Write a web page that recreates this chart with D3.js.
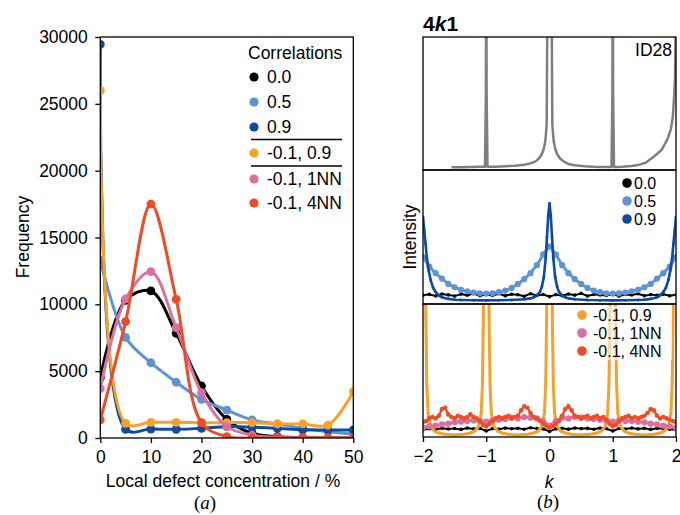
<!DOCTYPE html>
<html><head><meta charset="utf-8">
<script src="https://cdn.jsdelivr.net/npm/d3@7"></script>
<style>
body{margin:0;background:#fff;}
svg text{font-family:"Liberation Sans",Arial,sans-serif;}
</style></head>
<body><svg id="c" width="680" height="515"></svg>
<script>
// ---------- (a) data ----------
const conc = [0,5,10,15,20,25,30,35,40,45,50];
const s00  = [4500,10300,11000,7830,3890,1400,350,100,20,0,0];
const s05  = [13300,7530,5630,4170,2890,2090,1350,1050,720,470,300];
const s09  = [29450,650,670,650,720,850,800,720,600,600,600];
const sM09 = [26000,1100,1170,1170,1150,1150,1150,1050,1050,970,3470];
const s1NN = [3700,10400,12440,8250,3390,850,220,50,0,0,0];
const s4NN = [1350,8700,17500,10370,1150,100,0,0,0,0,0];
const freqTicks = [0,5000,10000,15000,20000,25000,30000];
const concTicks = [0,10,20,30,40,50];

// ---------- (b) data (intensity in % of sub-panel height) ----------
const kTicks = [-2,-1,0,1,2];
const id28K = [-1.55,-1.4,-1.25,-1.1,-1.02,-1.005,-1.0,-0.995,-0.98,-0.85,-0.7,-0.55,-0.4,-0.3,-0.22,-0.16,-0.12,-0.09,-0.065,-0.045,-0.035,-0.025,0,0.025,0.035,0.045,0.065,0.09,0.12,0.16,0.22,0.3,0.4,0.55,0.7,0.85,0.98,0.995,1.0,1.005,1.02,1.15,1.3,1.42,1.52,1.62,1.7,1.77,1.83,1.88,1.92,1.95,1.97,1.985,2.0];
const id28V = [2,2.1,2.2,2.4,2.5,60,300,60,2.5,2.5,2.8,3.2,4,5,6.5,9,12,16,22,34,110,300,400,300,110,34,22,16,12,9,6.5,4.5,3.5,2.8,2.4,2.3,2.3,60,300,60,2.3,2.5,3,4,5.5,9,12,15,20,25,31,40,55,70,130];

const kStep = [-2,-1.9,-1.8,-1.7,-1.6,-1.5,-1.4,-1.3,-1.2,-1.1,-1,-0.9,-0.8,-0.7,-0.6,-0.5,-0.4,-0.3,-0.2,-0.1,0,0.1,0.2,0.3,0.4,0.5,0.6,0.7,0.8,0.9,1,1.1,1.2,1.3,1.4,1.5,1.6,1.7,1.8,1.9,2];
const mid00 = [6.5,7.2,6.0,7.5,6.8,5.9,7.4,6.6,7.8,6.2,7.0,6.4,7.6,6.1,7.3,6.9,5.8,7.7,6.3,7.1,5.5,7.0,6.2,7.5,6.6,7.9,6.0,7.2,6.8,6.3,7.4,5.9,7.1,6.7,7.6,6.2,7.0,6.5,7.3,6.1,6.9];
const mid05 = [35,28,23,19,15,12.5,10.5,9.5,8.5,8,7.8,8,8.8,10,12,15,18.5,23,29,37,43,37,29,23,18.5,15,12,10,8.8,8,7.8,8,8.5,9.5,10.5,12.5,15,19,23,28,35];
const mid09K = [-2,-1.98,-1.96,-1.94,-1.91,-1.88,-1.84,-1.8,-1.75,-1.7,-1.6,-1.5,-1.4,-1.2,-1.0,-0.8,-0.6,-0.4,-0.3,-0.25,-0.2,-0.15,-0.12,-0.09,-0.06,-0.04,-0.02,0,0.02,0.04,0.06,0.09,0.12,0.15,0.2,0.25,0.3,0.4,0.6,0.8,1.0,1.2,1.4,1.5,1.6,1.7,1.75,1.8,1.84,1.88,1.91,1.94,1.96,1.98,2];
const mid09V = [65,55,45,35,25,18,12,9,6.5,5,3.8,3.2,3,2.8,2.7,2.8,3,3.5,4.2,5,6.5,9,13,20,34,50,66,75,66,50,34,20,13,9,6.5,5,4.2,3.5,3,2.8,2.7,2.8,3,3.2,3.8,5,6.5,9,12,18,25,35,45,55,65];

const botM09K = [-2,-1.97,-1.955,-1.94,-1.92,-1.88,-1.82,-1.75,-1.65,-1.5,-1.35,-1.25,-1.18,-1.12,-1.08,-1.06,-1.045,-1.03,-1,-0.97,-0.955,-0.94,-0.92,-0.88,-0.82,-0.75,-0.65,-0.5,-0.35,-0.25,-0.18,-0.12,-0.08,-0.06,-0.045,-0.03,0,0.03,0.045,0.06,0.08,0.12,0.18,0.25,0.35,0.5,0.65,0.75,0.82,0.88,0.92,0.94,0.955,0.97,1,1.03,1.045,1.06,1.08,1.12,1.18,1.25,1.35,1.5,1.65,1.75,1.82,1.88,1.92,1.94,1.955,1.97,2];
const botM09V = [600,250,90,40,18,8,4.5,3,2,1.5,2,3,4.5,8,18,40,90,250,600,250,90,40,18,8,4.5,3,2,1.5,2,3,4.5,8,18,40,90,250,600,250,90,40,18,8,4.5,3,2,1.5,2,3,4.5,8,18,40,90,250,600,250,90,40,18,8,4.5,3,2,1.5,2,3,4.5,8,18,40,90,250,600];
const bot00 = [5.5,6.2,5.8,6.6,6.0,6.4,5.7,6.8,6.1,6.5,4.5,6.3,5.9,6.7,6.2,6.6,5.8,6.9,6.3,6.0,4.2,6.1,6.6,5.9,6.8,6.3,6.5,5.8,6.7,6.2,4.5,6.4,6.0,6.8,6.1,6.6,5.7,6.5,6.2,5.9,5.4];
const bot1NN = [7,8,8.5,9.5,10,11,11.5,12,12.5,12,11.5,12.5,13,13.5,14.5,14,15,14.5,14,12,8.5,12,14.5,14,15,14.5,14,13.5,13,12.5,11.5,12.5,12,12,11.5,11,10,9.5,8.5,8,7];
const k4NN = [-2,-1.95,-1.9,-1.85,-1.8,-1.75,-1.7,-1.65,-1.6,-1.55,-1.5,-1.45,-1.4,-1.35,-1.3,-1.25,-1.2,-1.15,-1.1,-1.05,-1,-0.95,-0.9,-0.85,-0.8,-0.75,-0.7,-0.65,-0.6,-0.55,-0.5,-0.45,-0.4,-0.35,-0.3,-0.25,-0.2,-0.15,-0.1,-0.05,0,0.05,0.1,0.15,0.2,0.25,0.3,0.35,0.4,0.45,0.5,0.55,0.6,0.65,0.7,0.75,0.8,0.85,0.9,0.95,1,1.05,1.1,1.15,1.2,1.25,1.3,1.35,1.4,1.45,1.5,1.55,1.6,1.65,1.7,1.75,1.8,1.85,1.9,1.95,2];
const bot4NN = [11,12,14,15,14,16,21,22,17,15,14,16,15,14,15,17,15,14,12,9,8,10,12,14,15,14,15,16,14,15,16,20,23,22,18,15,14,12,10,8,7,8,10,12,16,21,23,20,16,15,14,15,16,14,15,16,14,15,13,10,8,9,12,14,15,16,14,15,14,15,16,18,21,20,16,14,15,14,13,12,11];

const C = {k:"#000000", lb:"#5f93d6", db:"#0b4aa5", or:"#f7a128", pk:"#d9709f", rd:"#ef4b27", gr:"#7f7f7f"};
const svg = d3.select("#c");
const FS = "17.5px";
const FSL = "16px";

// ================= (a) =================
const xL = d3.scaleLinear().domain([0,50]).range([100.3,353.3]);
const yL = d3.scaleLinear().domain([0,30000]).range([438,37]);
svg.append("clipPath").attr("id","clA").append("rect")
  .attr("x",xL(0)).attr("y",yL(30000)).attr("width",xL(50)-xL(0)).attr("height",yL(0)-yL(30000));
const gA = svg.append("g");
const plotA = gA.append("g").attr("clip-path","url(#clA)");
const lineA = d3.line().x((d,i)=>xL(conc[i])).y(d=>yL(d)).curve(d3.curveCatmullRom.alpha(0.5));
const seriesA = [[s00,C.k],[s05,C.lb],[s09,C.db],[sM09,C.or],[s1NN,C.pk],[s4NN,C.rd]];
seriesA.forEach(([vals,col])=>{
  plotA.append("path").attr("d",lineA(vals)).attr("fill","none").attr("stroke",col).attr("stroke-width",3);
  plotA.selectAll(null).data(vals).enter().append("circle")
    .attr("cx",(d,i)=>xL(conc[i])).attr("cy",d=>yL(d)).attr("r",4.4).attr("fill",col);
});
gA.append("rect").attr("x",xL(0)).attr("y",yL(30000)).attr("width",xL(50)-xL(0)).attr("height",yL(0)-yL(30000))
  .attr("fill","none").attr("stroke","#000").attr("stroke-width",1.3);
const axA_y = gA.append("g").attr("transform",`translate(${xL(0)},0)`)
  .call(d3.axisLeft(yL).tickValues(freqTicks).tickFormat(d3.format("d")).tickSize(5).tickPadding(7.5).tickSizeOuter(0));
const axA_x = gA.append("g").attr("transform",`translate(0,${yL(0)})`)
  .call(d3.axisBottom(xL).tickValues(concTicks).tickFormat(d3.format("d")).tickSize(5).tickPadding(7.5).tickSizeOuter(0));
[axA_y,axA_x].forEach(a=>{
  a.select(".domain").remove();
  a.selectAll("line").attr("stroke","#000").attr("stroke-width",1.3);
  a.selectAll("text").attr("font-size",FS).attr("fill","#000").style("font-family","Liberation Sans, Arial, sans-serif");
});
gA.append("text").attr("transform","translate(29,237) rotate(-90)").attr("text-anchor","middle")
  .attr("font-size",FS).text("Frequency");
gA.append("text").attr("x",223).attr("y",487).attr("text-anchor","middle").attr("font-size",FS)
  .text("Local defect concentration / %");
const capA = gA.append("text").attr("x",205).attr("y",509).attr("text-anchor","middle")
  .attr("font-size","19px").style("font-family","Liberation Serif, Times New Roman, serif");
capA.append("tspan").text("(");
capA.append("tspan").attr("font-style","italic").text("a");
capA.append("tspan").text(")");

// legend (a)
const legA = gA.append("g");
legA.append("text").attr("x",248).attr("y",59).attr("font-size",FS).text("Correlations");
const legItemsA = [["0.0",C.k,77],["0.5",C.lb,102],["0.9",C.db,127],["-0.1, 0.9",C.or,153],["-0.1, 1NN",C.pk,179],["-0.1, 4NN",C.rd,203]];
legItemsA.forEach(([t,col,cy])=>{
  legA.append("circle").attr("cx",254).attr("cy",cy).attr("r",4.6).attr("fill",col);
  legA.append("text").attr("x",267).attr("y",cy+6.3).attr("font-size",FS).text(t);
});
[139.5,166].forEach(y=>legA.append("line").attr("x1",251).attr("x2",342).attr("y1",y).attr("y2",y)
  .attr("stroke","#000").attr("stroke-width",1.5));

// ================= (b) =================
const xR = d3.scaleLinear().domain([-2,2]).range([423,676]);
const panels = [
  {top:37, bot:170, id:"clT"},
  {top:170, bot:304, id:"clM"},
  {top:304, bot:437, id:"clB"}
];
panels.forEach(p=>{
  p.y = d3.scaleLinear().domain([0,100]).range([p.bot,p.top]);
  svg.append("clipPath").attr("id",p.id).append("rect")
    .attr("x",xR(-2)).attr("y",p.top).attr("width",xR(2)-xR(-2)).attr("height",p.bot-p.top);
  p.g = svg.append("g").attr("clip-path",`url(#${p.id})`);
});
function drawSeries(p, ks, vs, col, lw, r){
  const ln = d3.line().x((d,i)=>xR(ks[i])).y(d=>p.y(d));
  p.g.append("path").attr("d",ln(vs)).attr("fill","none").attr("stroke",col)
    .attr("stroke-width",lw).attr("stroke-linejoin","round");
  if(r>0) p.g.selectAll(null).data(vs).enter().append("circle")
    .attr("cx",(d,i)=>xR(ks[i])).attr("cy",d=>p.y(d)).attr("r",r).attr("fill",col);
}
// top: ID28
drawSeries(panels[0], id28K, id28V, C.gr, 2.5, 0);
// middle
drawSeries(panels[1], kStep, mid00, C.k, 2, 1.8);
drawSeries(panels[1], kStep, mid05, C.lb, 3, 3.1);
drawSeries(panels[1], mid09K, mid09V, C.db, 2.6, 1.4);
// bottom
drawSeries(panels[2], kStep, bot00, C.k, 2, 1.8);
drawSeries(panels[2], botM09K, botM09V, C.or, 3, 1.4);
drawSeries(panels[2], kStep, bot1NN, C.pk, 3, 3.1);
drawSeries(panels[2], k4NN, bot4NN, C.rd, 2.4, 2.3);

// legends (b)
svg.append("rect").attr("x",575).attr("y",306).attr("width",97).attr("height",54)
  .attr("fill","#fff").attr("opacity",0.6);
const legM = [["0.0",C.k,183],["0.5",C.lb,201],["0.9",C.db,219]];
legM.forEach(([t,col,cy])=>{
  svg.append("circle").attr("cx",627).attr("cy",cy).attr("r",4.8).attr("fill",col);
  svg.append("text").attr("x",634).attr("y",cy+5.8).attr("font-size",FSL).text(t);
});
const legB = [["-0.1, 0.9",C.or,315],["-0.1, 1NN",C.pk,333],["-0.1, 4NN",C.rd,351]];
legB.forEach(([t,col,cy])=>{
  svg.append("circle").attr("cx",582).attr("cy",cy).attr("r",4.8).attr("fill",col);
  svg.append("text").attr("x",593).attr("y",cy+5.8).attr("font-size",FSL).text(t);
});

// frames
panels.forEach(p=>{
  svg.append("rect").attr("x",xR(-2)).attr("y",p.top).attr("width",xR(2)-xR(-2)).attr("height",p.bot-p.top)
    .attr("fill","none").attr("stroke","#000").attr("stroke-width",1.3);
});
const axB = svg.append("g").attr("transform",`translate(0,437)`)
  .call(d3.axisBottom(xR).tickValues(kTicks).tickFormat(d3.format("d")).tickSize(5).tickPadding(7.5).tickSizeOuter(0));
axB.select(".domain").remove();
axB.selectAll("line").attr("stroke","#000").attr("stroke-width",1.3);
axB.selectAll("text").attr("font-size",FS).attr("fill","#000").style("font-family","Liberation Sans, Arial, sans-serif");

svg.append("text").attr("x",672).attr("y",56).attr("text-anchor","end").attr("font-size",FS).text("ID28");
const ttl = svg.append("text").attr("x",423).attr("y",31).attr("font-size","21px").attr("font-weight","bold");
ttl.append("tspan").text("4");
ttl.append("tspan").attr("font-style","italic").text("k");
ttl.append("tspan").text("1");
svg.append("text").attr("transform","translate(416,237) rotate(-90)").attr("text-anchor","middle")
  .attr("font-size",FS).text("Intensity");
svg.append("text").attr("x",549).attr("y",488).attr("text-anchor","middle").attr("font-size",FS)
  .attr("font-style","italic").text("k");
const capB = svg.append("text").attr("x",548).attr("y",508).attr("text-anchor","middle")
  .attr("font-size","19px").style("font-family","Liberation Serif, Times New Roman, serif");
capB.append("tspan").text("(");
capB.append("tspan").attr("font-style","italic").text("b");
capB.append("tspan").text(")");
</script></body></html>
